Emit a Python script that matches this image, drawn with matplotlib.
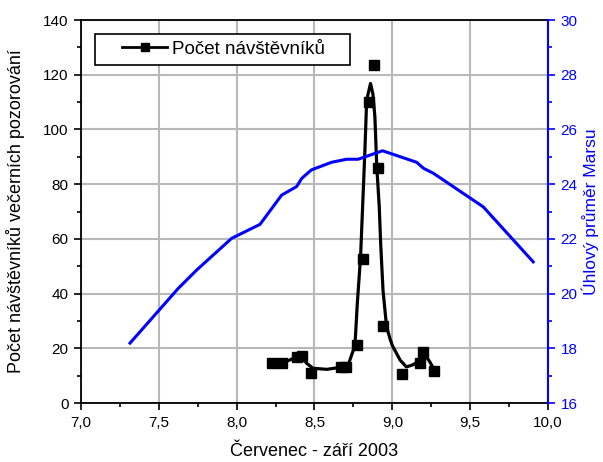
import matplotlib
matplotlib.use("Agg")
import matplotlib.pyplot as plt
from matplotlib.ticker import MultipleLocator, FuncFormatter
from matplotlib.patches import Rectangle

plt.rcParams['font.family'] = ['Liberation Sans', 'DejaVu Sans']

# Visitors (markers)
visit_x = [8.23, 8.29, 8.39, 8.42, 8.48, 8.67, 8.70, 8.77, 8.81, 8.85, 8.88, 8.91, 8.94, 9.06, 9.18, 9.20, 9.27]
visit_y = [14.5, 14.5, 16.8, 17.2, 11.0, 13.3, 13.3, 21.2, 52.5, 109.9, 123.5, 85.8, 28.1, 10.7, 14.5, 18.7, 11.6]

# Smoothed visitor curve
curve_x = [8.23, 8.29, 8.34, 8.41, 8.45, 8.49, 8.58, 8.66, 8.72, 8.75, 8.76, 8.775, 8.796, 8.81,
           8.824, 8.835, 8.86, 8.875, 8.888, 8.90, 8.916, 8.925, 8.94, 8.963, 8.985, 9.0,
           9.05, 9.09, 9.13, 9.18, 9.20, 9.24, 9.27]
curve_y = [14.5, 14.5, 15.7, 17.5, 14.5, 12.7, 12.3, 13.0, 14.5, 19.4, 21.2, 36.4, 53.5, 73.0,
           92.5, 110.7, 116.8, 113.0, 104.6, 86.4, 71.7, 58.4, 41.3, 27.9, 23.5, 21.0,
           15.7, 13.2, 13.9, 15.7, 18.4, 15.1, 12.1]

# Mars angular diameter
mars_x = [7.315, 7.625, 7.743, 7.968, 8.15, 8.289, 8.385, 8.418, 8.48, 8.61, 8.706, 8.78, 8.937,
          9.156, 9.20, 9.263, 9.584, 9.905]
mars_y = [18.19, 20.19, 20.86, 22.02, 22.53, 23.60, 23.91, 24.21, 24.52, 24.80, 24.91, 24.91, 25.22,
          24.80, 24.58, 24.40, 23.17, 21.16]

fig = plt.figure(figsize=(6.03, 4.62), dpi=100)
ax = fig.add_axes([0.1343, 0.1277, 0.9088 - 0.1343, 0.9567 - 0.1277])
ax2 = ax.twinx()

comma = FuncFormatter(lambda v, p: f"{v:.1f}".replace('.', ','))

ax.set_xlim(7.0, 10.0)
ax.set_ylim(0, 140)
ax.xaxis.set_major_locator(MultipleLocator(0.5))
ax.xaxis.set_minor_locator(MultipleLocator(0.25))
ax.xaxis.set_major_formatter(comma)
ax.yaxis.set_major_locator(MultipleLocator(20))
ax.yaxis.set_minor_locator(MultipleLocator(10))
ax.grid(True, which='major', color='#b8b8b8', linewidth=1.5)
ax.set_axisbelow(True)
ax.tick_params(which='major', direction='out', length=5, width=1.2, labelsize=11, colors='black', pad=4)
ax.tick_params(which='minor', direction='out', length=3, width=1.2)
for s in ax.spines.values():
    s.set_linewidth(1.3)

ax.plot(curve_x, curve_y, color='black', linewidth=2.3, zorder=3)
ax.plot(visit_x, visit_y, linestyle='none', marker='s', markersize=6.5, color='black', zorder=4)
h, = ax.plot([], [], color='black', linewidth=2.0, marker='s', markersize=6, label='Počet návštěvníků')

ax2.plot(mars_x, mars_y, color='#0000ff', linewidth=2.2)
ax2.set_ylim(16, 30)
ax2.yaxis.set_major_locator(MultipleLocator(2))
ax2.yaxis.set_minor_locator(MultipleLocator(1))
ax2.tick_params(which='major', direction='out', length=5, width=1.2, labelsize=11, colors='#0000ff', pad=4)
ax2.tick_params(which='minor', direction='out', length=3, width=1.2, colors='#0000ff')
ax2.spines['right'].set_color('#0000ff')
ax2.spines['right'].set_linewidth(1.5)
for side in ['left', 'top', 'bottom']:
    ax2.spines[side].set_visible(False)

ax.set_xlabel('Červenec - září 2003', fontsize=13)
ax.xaxis.set_label_coords(0.5, -0.105)
ax.set_ylabel('Počet návštěvníků večerních pozorování', fontsize=13)
ax.yaxis.set_label_coords(-0.12, 0.5)
ax2.set_ylabel('Úhlový průměr Marsu', fontsize=12.5, color='#0000ff')
ax2.yaxis.set_label_coords(1.072, 0.5)

# legend box
box = Rectangle((0.030, 0.8825), 0.546, 0.081, transform=ax.transAxes, facecolor='white',
                edgecolor='black', linewidth=1.2, zorder=5)
ax.add_patch(box)
leg = ax.legend(handles=[h], loc='center left', bbox_to_anchor=(0.088, 0.923), fontsize=13.5,
                frameon=False, handlelength=2.4, borderpad=0, borderaxespad=0, handletextpad=0.25)
leg.set_zorder(6)

fig.savefig('out.png', dpi=100)
